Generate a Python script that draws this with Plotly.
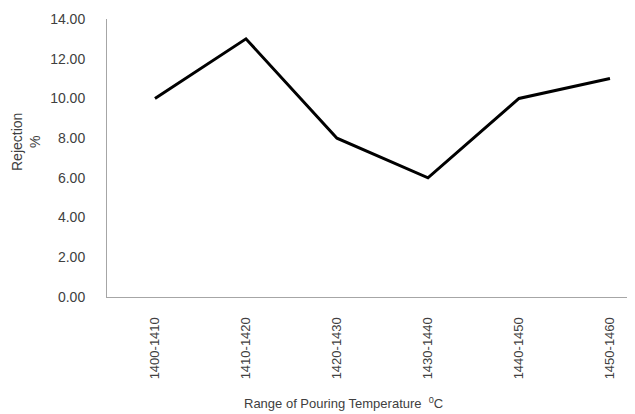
import plotly.graph_objects as go

categories = ["1400-1410", "1410-1420", "1420-1430", "1430-1440", "1440-1450", "1450-1460"]
rejection = [10, 13, 8, 6, 10, 11]
y_ticks = [0, 2, 4, 6, 8, 10, 12, 14]
y_tick_labels = ["%.2f" % v for v in y_ticks]

# page body has an 8px margin, so the figure is drawn 8px in from the top-left
OFF = 8
W, H = 635 - OFF, 414 - OFF
L, R, T, B = 107 - OFF, 0, 19 - OFF, 117

fig = go.Figure()
fig.add_trace(go.Scatter(
    x=list(range(len(categories))), y=rejection, mode="lines",
    line=dict(color="black", width=3), hoverinfo="skip"))

font = dict(family="Liberation Sans, Arial, sans-serif", size=13, color="#404040")
yfont = dict(family="Liberation Sans, Arial, sans-serif", size=14, color="#404040")

fig.update_layout(
    width=W, height=H, margin=dict(l=L, r=R, t=T, b=B, autoexpand=False),
    paper_bgcolor="white", plot_bgcolor="white", showlegend=False,
    font=font,
    xaxis=dict(range=[-0.527, 5.275], tickmode="array",
               tickvals=list(range(len(categories))), ticktext=categories,
               tickangle=-90, showgrid=False, zeroline=False,
               showline=True, linecolor="#a6a6a6", linewidth=1,
               ticks="", ticklabelstandoff=14, tickfont=font, automargin=False),
    yaxis=dict(range=[0, 14], tickmode="array", tickvals=y_ticks,
               ticktext=y_tick_labels, showgrid=False, zeroline=False,
               showline=True, linecolor="#a6a6a6", linewidth=1,
               ticks="", ticklabelstandoff=18, tickfont=yfont, automargin=False),
)

pw = W - L - R
ph = H - T - B
fig.add_annotation(text="Rejection<br>%", xref="paper", yref="paper",
                   x=(26 - OFF - L) / pw, y=(H - B - (142 - OFF)) / ph,
                   xanchor="center", yanchor="middle", textangle=-90,
                   showarrow=False, font=yfont)
fig.add_annotation(text="Range of Pouring Temperature  <sup>0</sup>C",
                   xref="paper", yref="paper",
                   x=(343 - OFF - L) / pw, y=-((403 - OFF) - (H - B)) / ph,
                   xanchor="center", yanchor="middle",
                   showarrow=False, font=font)

fig.write_html("out.html")
